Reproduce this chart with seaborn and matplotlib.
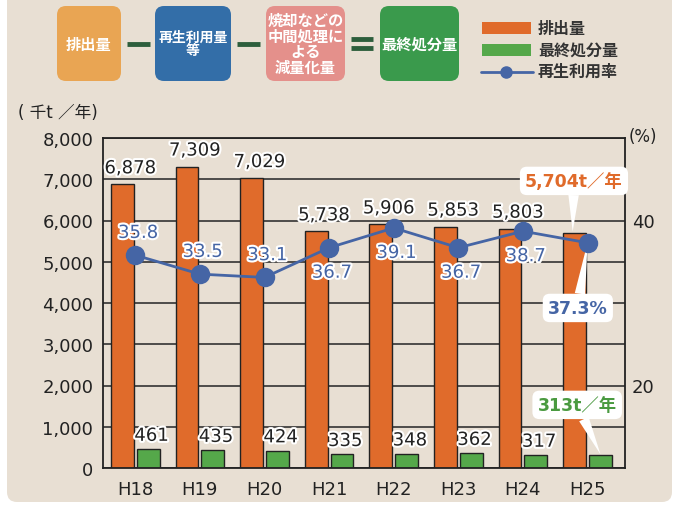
import numpy as np
import pandas as pd
import matplotlib
matplotlib.use('Agg')
import matplotlib.pyplot as plt
import matplotlib.patheffects as pe
from matplotlib.patches import FancyBboxPatch, Rectangle
import seaborn as sns

# ---- データ ----
years = ['H18', 'H19', 'H20', 'H21', 'H22', 'H23', 'H24', 'H25']
haishutsu = [6878, 7309, 7029, 5738, 5906, 5853, 5803, 5704]   # 排出量 (千t/年)
saishu = [461, 435, 424, 335, 348, 362, 317, 313]              # 最終処分量 (千t/年)
riyouritsu = [35.8, 33.5, 33.1, 36.7, 39.1, 36.7, 38.7, 37.3]  # 再生利用率 (%)
above_pct = [True, True, True, False, False, False, False]      # ラベル位置 (H18-H24)

# ---- 色 ----
c_orange = '#e06b2b'
c_green = '#55a84a'
c_blue = '#4565a5'
c_beige = '#e8dfd3'
c_text = '#222222'

sns.set_style('white')
plt.rcParams['font.family'] = ['DejaVu Sans', 'Noto Sans CJK JP']

W, H = 676, 506
fig = plt.figure(figsize=(W / 100, H / 100), dpi=100)
fig.patch.set_facecolor('white')

# 背景用 (ピクセル座標)
bg = fig.add_axes([0, 0, 1, 1])
bg.set_xlim(0, W)
bg.set_ylim(H, 0)
bg.axis('off')
bg.set_zorder(-1)
bg.add_patch(FancyBboxPatch((7, -20), 665, 523, boxstyle='round,pad=0,rounding_size=10',
                            fc=c_beige, ec='none'))

# ---- 上部の式 ----
boxes = [(57, 121, '#e9a553', '排出量', 11),
         (155, 231, '#336ea8', '再生利用量\n等', 10),
         (266, 345, '#e4908b', '焼却などの\n中間処理に\nよる\n減量化量', 11),
         (380, 459, '#3a9a4c', '最終処分量', 11)]
for x0, x1, col, label, fs in boxes:
    bg.add_patch(FancyBboxPatch((x0, 7), x1 - x0, 75, boxstyle='round,pad=0,rounding_size=9',
                                fc=col, ec='none'))
    bg.text((x0 + x1) / 2, 44.5, label, ha='center', va='center', color='white',
            fontsize=fs, fontweight='bold', linespacing=0.98,
            family=['Noto Sans CJK JP'])
dash_col = '#2d5e3c'
for x0, x1 in [(127, 150), (237, 260)]:
    bg.plot([x0, x1], [44.5, 44.5], color=dash_col, lw=3.5, solid_capstyle='butt')
for yy in [40, 49]:
    bg.plot([351, 373], [yy, yy], color=dash_col, lw=3.5, solid_capstyle='butt')

# ---- 凡例 ----
bg.add_patch(Rectangle((482, 23), 49, 12, fc=c_orange, ec='none'))
bg.add_patch(Rectangle((482, 45), 49, 12, fc=c_green, ec='none'))
bg.plot([481, 533], [73, 73], color=c_blue, lw=2)
bg.plot([506], [73], 'o', color=c_blue, ms=8)
for yy, label in [(29, '排出量'), (51, '最終処分量'), (72, '再生利用率')]:
    bg.text(538, yy, label, ha='left', va='center', fontsize=11.5, fontweight='bold',
            color='#333333', family=['Noto Sans CJK JP'])

bg.text(58, 113, '( 千t ／年)', ha='center', va='center', fontsize=12, color=c_text,
        family=['DejaVu Sans', 'Noto Sans CJK JP'])
bg.text(643, 137, '(%)', ha='center', va='center', fontsize=12, color=c_text)

# ---- メインのグラフ ----
ax = fig.add_axes([103 / W, 1 - 469 / H, (625 - 103) / W, (469 - 139) / H])
ax.set_facecolor('none')

df = pd.DataFrame({'year': years * 2,
                   'kind': ['排出量'] * len(years) + ['最終処分量'] * len(years),
                   'value': haishutsu + saishu})
sns.barplot(data=df, x='year', y='value', hue='kind', hue_order=['排出量', '最終処分量'],
            palette=[c_orange, c_green], width=0.8, gap=0.12, edgecolor='#222222',
            linewidth=1, saturation=1, legend=False, ax=ax)

ax.set_xlim(-0.5, 7.58)
ax.set_ylim(0, 8000)
ax.set_yticks(range(0, 8001, 1000))
ax.set_yticklabels([f'{v:,}' for v in range(0, 8001, 1000)])
ax.yaxis.grid(True, color='#333333', lw=1.2)
ax.set_axisbelow(True)
ax.set_xlabel('')
ax.set_ylabel('')
ax.tick_params(axis='y', length=0, labelsize=13, pad=7, labelcolor=c_text)
ax.tick_params(axis='x', which='major', length=0, labelsize=13, pad=9, labelcolor=c_text)
ax.set_xticks(np.arange(len(years)) + 0.5, minor=True)
ax.tick_params(axis='x', which='minor', direction='in', length=7, width=1.2, color='#222222')
for s in ax.spines.values():
    s.set_visible(True)
    s.set_color('#222222')
    s.set_linewidth(1.3)

stroke = [pe.withStroke(linewidth=3, foreground='white')]
for i, v in enumerate(haishutsu[:-1]):
    ax.annotate(f'{v:,}', xy=(i - 0.08, v), xytext=(0, 5), textcoords='offset points',
                ha='center', va='bottom', fontsize=13, color=c_text, path_effects=stroke)
for i, v in enumerate(saishu[:-1]):
    ax.annotate(f'{v:,}', xy=(i + 0.25, v), xytext=(0, 3), textcoords='offset points',
                ha='center', va='bottom', fontsize=13, color=c_text, path_effects=stroke)

# ---- 再生利用率 (右軸) ----
ax2 = ax.twinx()
x = np.arange(len(years))
sns.lineplot(x=x, y=riyouritsu, ax=ax2, color=c_blue, lw=2, marker='o', markersize=14,
             markeredgewidth=0, zorder=5)
ax2.set_ylim(10, 50)
ax2.set_yticks([20, 40])
ax2.tick_params(axis='y', length=0, labelsize=13, pad=5, labelcolor=c_text)
ax2.grid(False)
for s in ax2.spines.values():
    s.set_visible(False)

for i, (v, up) in enumerate(zip(riyouritsu[:-1], above_pct)):
    ax2.annotate(f'{v}', xy=(i, v), xytext=(2, 16 if up else -18), textcoords='offset points',
                 ha='center', va='center', fontsize=13, color=c_blue, path_effects=stroke)

# ---- 吹き出し ----
wedge = dict(arrowstyle='wedge,tail_width=0.6', fc='white', ec='none', shrinkA=0, shrinkB=0)
box = dict(boxstyle='round,pad=0.3,rounding_size=0.4', fc='white', ec='none')
ax.annotate('5,704t／年', xy=(6.77, haishutsu[-1] + 30), xytext=(6.79, 6960),
            ha='center', va='center', fontsize=12.5, fontweight='bold', color=c_orange,
            family=['DejaVu Sans', 'Noto Sans CJK JP'], bbox=box, arrowprops=wedge)
ax.annotate('313t／年', xy=(7.2, saishu[-1] + 20), xytext=(6.84, 1530),
            ha='center', va='center', fontsize=12.5, fontweight='bold', color='#4a9a40',
            family=['DejaVu Sans', 'Noto Sans CJK JP'], bbox=box, arrowprops=wedge)
ax2.annotate(f'{riyouritsu[-1]}%', xy=(7, riyouritsu[-1]), xytext=(6.85, 29.4),
             ha='center', va='center', fontsize=12.5, fontweight='bold', color=c_blue,
             bbox=box, arrowprops=wedge, zorder=1)

fig.savefig('out.png', dpi=100)
